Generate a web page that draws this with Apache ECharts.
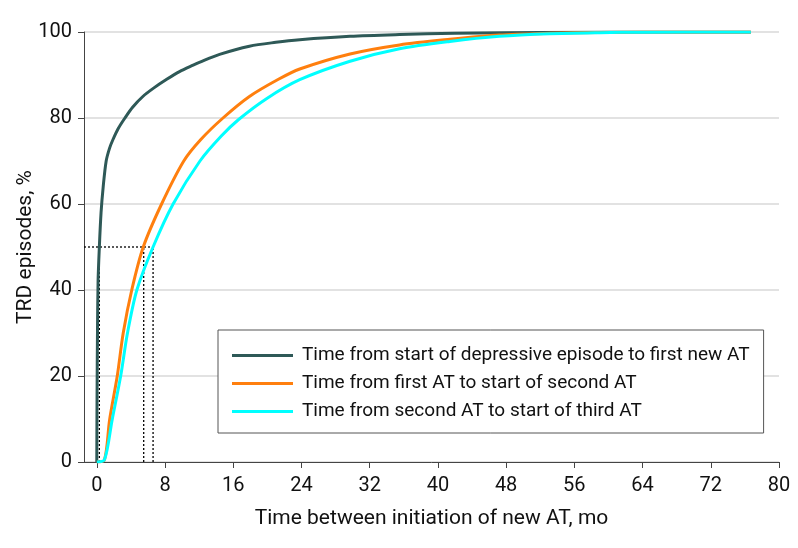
<!DOCTYPE html>
<html><head><meta charset="utf-8">
<script src="https://cdn.jsdelivr.net/npm/echarts@6/dist/echarts.min.js"></script>
<style>html,body{margin:0;padding:0;background:#fff}#c{width:798px;height:548px}</style>
</head><body><div id="c"></div>
<script>
var seriesNames = [
  'Time from start of depressive episode to first new AT',
  'Time from first AT to start of second AT',
  'Time from second AT to start of third AT'
];
var darkX = [0, 0.03, 0.08, 0.15, 0.3, 0.5, 0.75, 1.1, 1.5, 1.9, 2.5, 3.3, 4.2, 5.4, 6.7, 8.2, 9.7, 11.3, 12.1, 14.4, 17.9, 21, 23.8, 29.7, 35.5, 42, 48, 56, 64, 76.7];
var darkY = [0, 15, 30, 42, 50, 58, 64, 70, 73, 75, 77.5, 80, 82.5, 85, 87, 89, 90.8, 92.3, 93.0, 94.8, 96.7, 97.6, 98.2, 99.0, 99.4, 99.7, 99.85, 99.95, 100, 100];
var orangeX = [0, 0.9, 1.5, 2.4, 3.1, 4.1, 5.45, 7.6, 10.2, 12.2, 14.8, 17.9, 21.3, 23.8, 29.7, 35.5, 41.4, 47.2, 53.1, 59, 64, 76.7];
var orangeY = [0, 0.5, 9.8, 20, 30, 40, 50, 60, 70, 75, 80, 85, 89, 91.4, 94.9, 97, 98.3, 99.3, 99.7, 99.9, 100, 100];
var cyanX = [0, 0.9, 1.8, 2.8, 3.6, 4.7, 6.6, 8.95, 12.1, 14.6, 16.6, 19.9, 23.8, 29.7, 35.5, 41.4, 47.2, 53.1, 59, 64, 76.7];
var cyanY = [0, 0.5, 9.8, 20, 30, 40, 50, 60, 70, 75.8, 79.6, 84.5, 88.9, 93.2, 96.1, 97.8, 99.0, 99.6, 99.85, 99.95, 100];
var medianX = [0.3, 5.5, 6.6];
var medianY = 50;
var xTicks = [0, 8, 16, 24, 32, 40, 48, 56, 64, 72, 80];
var colors = ['#2e5957', '#ff7f0e', '#00ffff'];

var FONT = 'Roboto, "Noto Sans", sans-serif';
var xMin = -1.5;
function pairs(xs, ys) { return xs.map(function (x, i) { return [x, ys[i]]; }); }
var curves = [pairs(darkX, darkY), pairs(orangeX, orangeY), pairs(cyanX, cyanY)];

var series = [];
var guideStyle = { color: '#000', width: 1.3, type: [2, 2] };
series.push({ type: 'line', name: 'guideH', data: [[xMin, medianY], [Math.max.apply(null, medianX), medianY]],
  symbol: 'none', lineStyle: guideStyle, silent: true, z: 1 });
medianX.forEach(function (m, i) {
  series.push({ type: 'line', name: 'guideV' + i, data: [[m, 0], [m, medianY]],
    symbol: 'none', lineStyle: guideStyle, silent: true, z: 1 });
});
curves.forEach(function (d, i) {
  series.push({ type: 'line', name: seriesNames[i], data: d, symbol: 'none', showSymbol: false,
    smooth: 0.3,
    lineStyle: { color: colors[i], width: 3 }, itemStyle: { color: colors[i] }, z: 2 + i });
});

var chart = echarts.init(document.getElementById('c'), null, { renderer: 'canvas' });
chart.setOption({
  animation: false,
  backgroundColor: '#fff',
  grid: { left: 84, right: 19, top: 32, bottom: 86, containLabel: false },
  xAxis: {
    type: 'value', min: xMin, max: 80,
    name: 'Time between initiation of new AT, mo', nameLocation: 'middle', nameGap: 46, nameMoveOverlap: false,
    nameTextStyle: { fontFamily: FONT, fontSize: 21, color: '#111' },
    axisLine: { onZero: false, lineStyle: { color: '#444', width: 1 } },
    axisTick: { show: true, length: 6, lineStyle: { color: '#444' }, customValues: xTicks },
    axisLabel: { fontFamily: FONT, fontSize: 20, color: '#111', margin: 14, customValues: xTicks },
    splitLine: { show: false }
  },
  yAxis: {
    type: 'value', min: 0, max: 100, interval: 20,
    name: 'TRD episodes, %', nameLocation: 'middle', nameGap: 48, nameRotate: 90, nameMoveOverlap: false,
    nameTextStyle: { fontFamily: FONT, fontSize: 21, color: '#111' },
    axisLine: { show: true, onZero: false, lineStyle: { color: '#444', width: 1 } },
    axisTick: { show: true, length: 6, lineStyle: { color: '#444' } },
    axisLabel: { fontFamily: FONT, fontSize: 20, color: '#111', margin: 12 },
    splitLine: { show: true, lineStyle: { color: '#d9d9d9', width: 1.5 } }
  },
  legend: {
    data: seriesNames, orient: 'vertical', left: 218, top: 330,
    itemWidth: 61, itemHeight: 14, itemGap: 9,
    padding: [16, 14, 12, 14],
    backgroundColor: '#fff', borderColor: '#555', borderWidth: 1,
    icon: 'path://M0,6H61V9H0Z',
    textStyle: { fontFamily: FONT, fontSize: 19, lineHeight: 14, color: '#111', padding: [0, 0, 0, 4] }
  },
  series: series
});
</script></body></html>
